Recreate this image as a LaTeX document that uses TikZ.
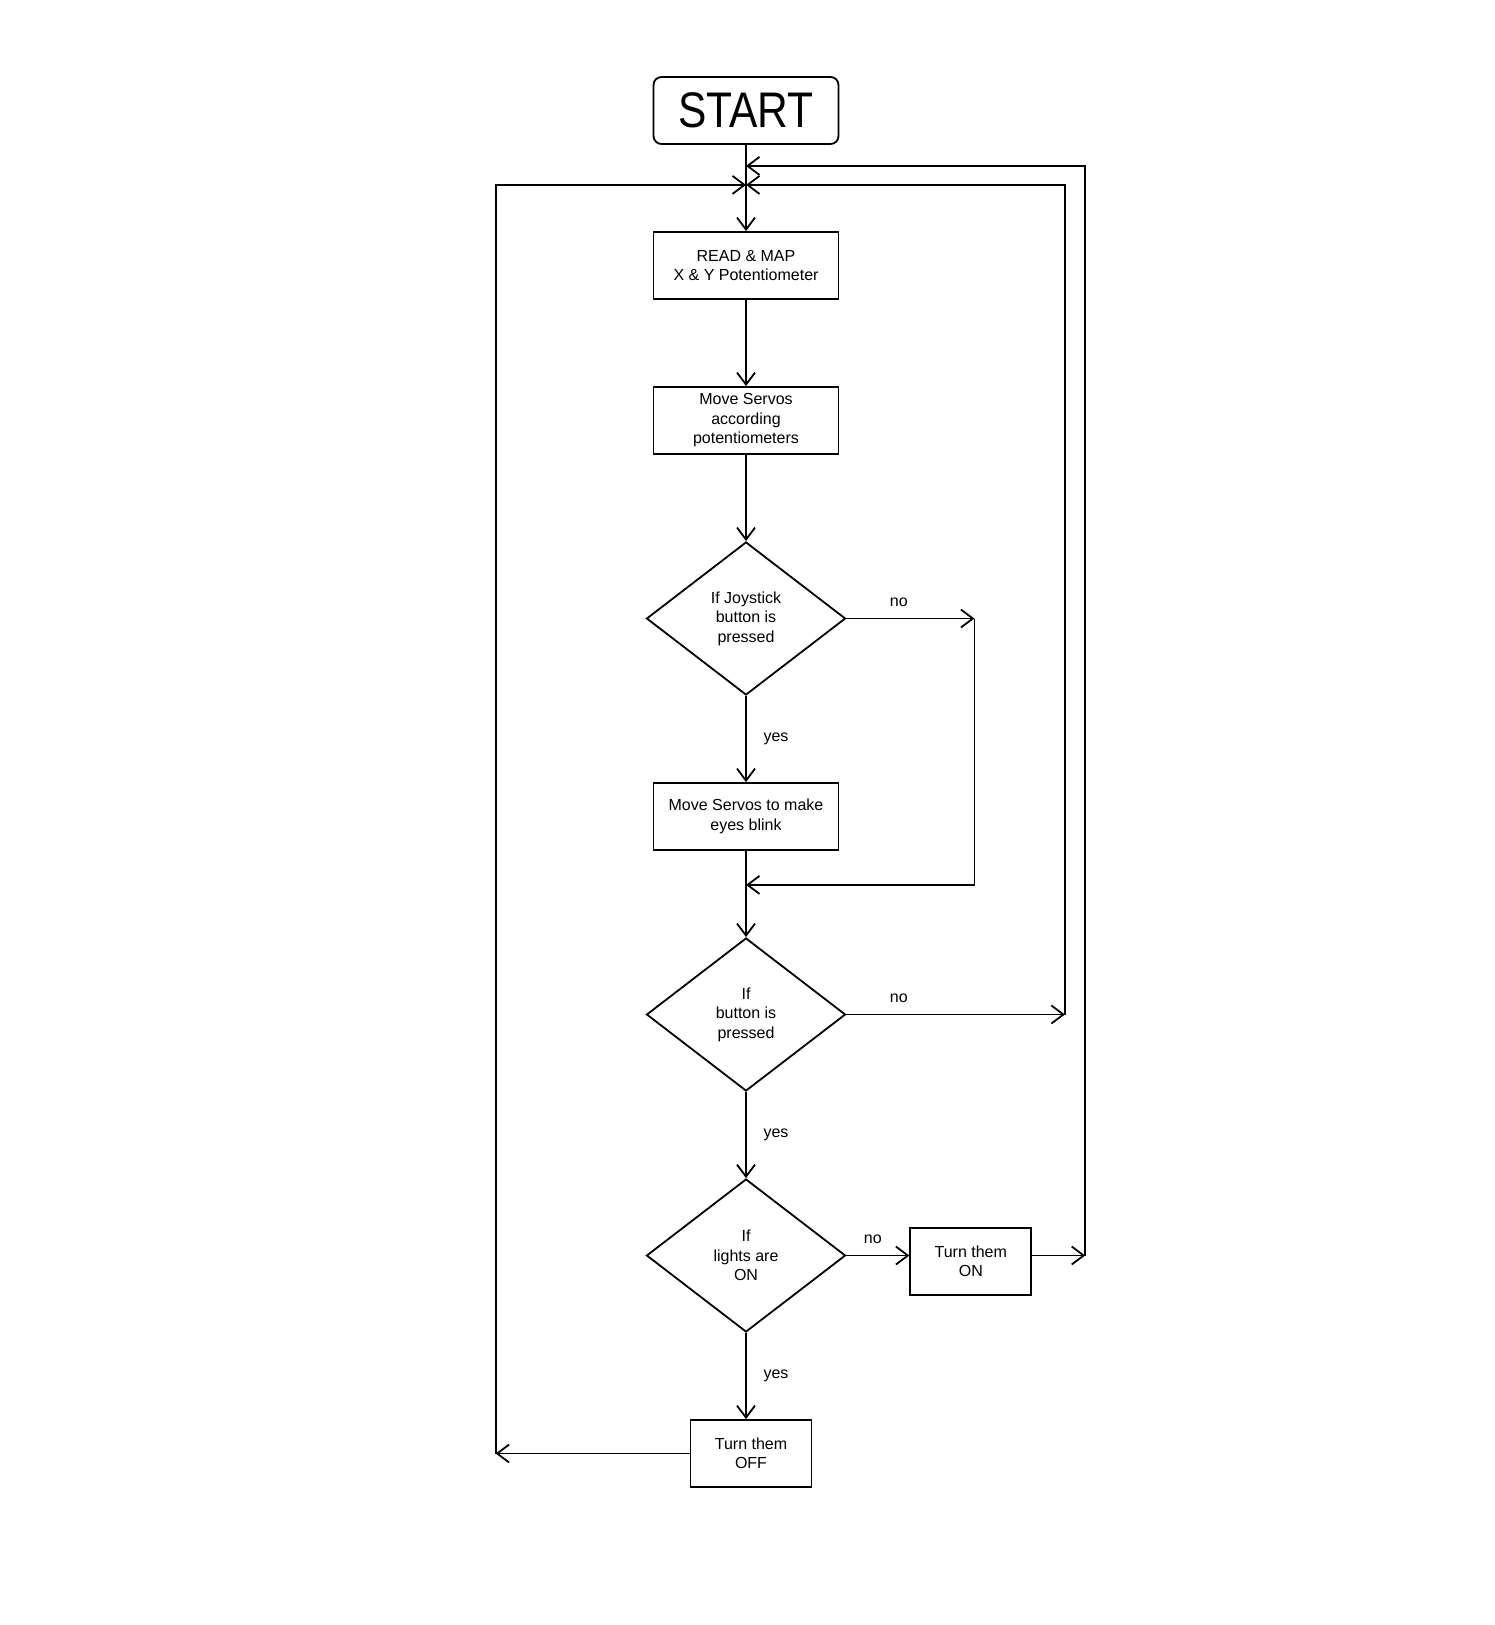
\documentclass[tikz,border=0pt]{standalone}
\usepackage{fontspec}
\setmainfont{Liberation Sans}
\newfontfamily\startfont[FakeStretch=0.85]{Liberation Sans}
\usetikzlibrary{shapes.geometric, arrows.meta, positioning}

\tikzset{
    startbox/.style={draw, rectangle, rounded corners=4pt, minimum width=92.5pt, minimum height=33.5pt, font=\startfont\fontsize{25pt}{25pt}\selectfont},
    process/.style={draw, rectangle, minimum width=92.5pt, minimum height=33.5pt, align=center, inner sep=1pt},
    smallbox/.style={draw, rectangle, minimum width=60.5pt, minimum height=33.5pt, align=center, inner sep=1pt},
    decision/.style={draw, diamond, minimum width=99.5pt, minimum height=76.5pt, inner sep=0pt, align=center},
}

\begin{document}
\begin{tikzpicture}[node distance=43.1pt, line width=0.9pt,
    font=\fontsize{8pt}{9.75pt}\selectfont,
    >={Straight Barb[length=6pt,width=9pt]}]
    \useasboundingbox (0,0) rectangle (747pt,-812.5pt);

    \node[startbox] (start) at (373pt,-55.25pt) {START};
    \node[process, below=of start] (read) {READ \& MAP\\X \& Y Potentiometer};
    \node[process, below=of read] (servo) {Move Servos\\according\\potentiometers};
    \node[decision, below=of servo] (joy) {If Joystick\\button is\\pressed};
    \node[process, below=of joy] (blink) {Move Servos to make\\eyes blink};
    \node[decision, below=of blink] (btn) {If\\button is\\pressed};
    \node[decision, below=of btn] (lamp) {If\\lights are\\ON};
    \node[smallbox, right=31.5pt of lamp, yshift=-3pt] (on) {Turn them\\ON};
    \node[smallbox, below=of lamp, xshift=2.5pt] (off) {Turn them\\OFF};

    % junctions and corners
    \coordinate[below=10.5pt of start.south] (jhigh);
    \coordinate[below=20pt of start.south] (jlow);
    \coordinate[right=64pt of joy.east] (joyc);
    \coordinate[below=17pt of blink.south] (blinkj);
    \coordinate[right=109.25pt of btn.east] (btnc);
    \coordinate[right=26.5pt of on.east, yshift=3pt] (onc);
    \coordinate[left=97pt of off.west] (offc);

    \draw[->] (start) -- (read);
    \draw[->] (read) -- (servo);
    \draw[->] (servo) -- (joy);
    \draw[->] (joy) -- node[right=5pt] {yes} (blink);
    \draw[->] (joy.east) -- node[pos=0.41, above=2pt] {no} (joyc);
    \draw[->] (joyc) |- (blinkj);
    \draw[->] (blink) -- (btn);
    \draw[->] (btn.east) -- node[pos=0.24, above=2pt] {no} (btnc);
    \draw[->] (btnc) |- (jlow);
    \draw[->] (btn) -- node[right=5pt] {yes} (lamp);
    \draw[->] (lamp.east) -- node[pos=0.42, above=2pt] {no} (lamp.east -| on.west);
    \draw[->] (on.east |- onc) -- (onc);
    \draw[->] (onc) |- (jhigh);
    \draw[->] (lamp) -- node[right=5pt] {yes} (lamp |- off.north);
    \draw[->] (off.west) -- (offc);
    \draw[->] (offc) |- (jlow);
\end{tikzpicture}
\end{document}
